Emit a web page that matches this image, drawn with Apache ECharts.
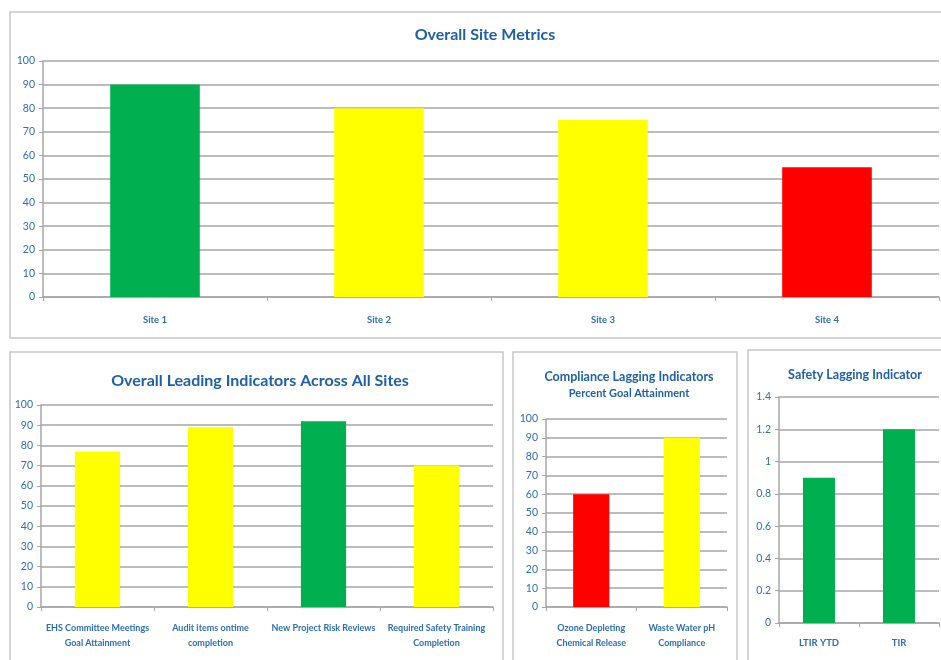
<!DOCTYPE html>
<html><head><meta charset="utf-8">
<script src="https://cdn.jsdelivr.net/npm/echarts@6/dist/echarts.min.js"></script>
<style>html,body{margin:0;padding:0;background:#fff;}#c{width:941px;height:660px;}</style>
</head><body><div id="c"></div>
<script>
// ---- data ----
var siteCats = ['Site 1', 'Site 2', 'Site 3', 'Site 4'];
var siteVals = [90, 80, 75, 55];
var siteColors = ['#00B050', '#FFFF00', '#FFFF00', '#FF0000'];

var leadCats = ['EHS Committee Meetings\nGoal Attainment', 'Audit items ontime\ncompletion', 'New Project Risk Reviews', 'Required Safety Training\nCompletion'];
var leadVals = [77, 89, 92, 70];
var leadColors = ['#FFFF00', '#FFFF00', '#00B050', '#FFFF00'];

var compCats = ['Ozone Depleting\nChemical Release', 'Waste Water pH\nCompliance'];
var compVals = [60, 90];
var compColors = ['#FF0000', '#FFFF00'];

var safeCats = ['LTIR YTD', 'TIR'];
var safeVals = [0.9, 1.2];
var safeColors = ['#00B050', '#00B050'];

var titles = ['Overall Site Metrics', 'Overall Leading Indicators Across All Sites', 'Compliance Lagging Indicators', 'Safety Lagging Indicator'];
var subTitle = 'Percent Goal Attainment';

// ---- style ----
var FONT = 'Lato, "Open Sans", sans-serif';
var TITLE_C = '#1F5FA6';
var LBL_C = '#2E6DB4';
var GRID_C = '#A6A6A6';

function mk(vals, cols) { return vals.map(function (v, i) { return { value: v, itemStyle: { color: cols[i] } }; }); }

var grids = [
  { left: 43, top: 61, width: 896, height: 236 },
  { left: 41, top: 405, width: 452, height: 202 },
  { left: 546, top: 419, width: 181, height: 188 },
  { left: 779, top: 397, width: 160, height: 226 }
];
var catsList = [siteCats, leadCats, compCats, safeCats];
var valsList = [siteVals, leadVals, compVals, safeVals];
var colsList = [siteColors, leadColors, compColors, safeColors];
var yMax = [100, 100, 100, 1.4];
var yInt = [10, 10, 10, 0.2];
var xFont = [9.5, 9, 9, 9.5];
var xMargin = [15, 14, 14, 12];

var xAxis = [], yAxis = [], series = [];
for (var i = 0; i < 4; i++) {
  xAxis.push({
    type: 'category', gridIndex: i, data: catsList[i],
    axisLine: { lineStyle: { color: GRID_C, width: 1.5 } },
    axisTick: { show: true, length: 4, lineStyle: { color: GRID_C } },
    axisLabel: { color: LBL_C, fontFamily: FONT, fontWeight: 'bold', fontSize: xFont[i], margin: xMargin[i], lineHeight: 15, interval: 0 }
  });
  yAxis.push({
    type: 'value', gridIndex: i, min: 0, max: yMax[i], interval: yInt[i],
    axisLine: { show: true, lineStyle: { color: GRID_C, width: 1.5 } },
    axisTick: { show: true, length: 4, lineStyle: { color: GRID_C } },
    splitLine: { lineStyle: { color: GRID_C, width: 1.5 } },
    axisLabel: { color: LBL_C, fontFamily: FONT, fontSize: 10.5, margin: 8, formatter: function (v) { return String(Math.round(v * 10) / 10); } }
  });
  series.push({
    type: 'bar', xAxisIndex: i, yAxisIndex: i, barWidth: '40%',
    data: mk(valsList[i], colsList[i]), silent: true
  });
}

var option = {
  animation: false,
  backgroundColor: '#fff',
  title: [
    { text: titles[0], left: 480, top: 22, textAlign: 'center', textStyle: { color: TITLE_C, fontFamily: FONT, fontWeight: 'bold', fontSize: 16 } },
    { text: titles[1], left: 255, top: 368, textAlign: 'center', textStyle: { color: TITLE_C, fontFamily: FONT, fontWeight: 'bold', fontSize: 16 } },
    { text: titles[2], left: 624, top: 365, textAlign: 'center', textStyle: { color: TITLE_C, fontFamily: FONT, fontWeight: 'bold', fontSize: 12.5 },
      subtext: subTitle, itemGap: 5, subtextStyle: { color: TITLE_C, fontFamily: FONT, fontWeight: 'bold', fontSize: 11 } },
    { text: titles[3], left: 850, top: 363, textAlign: 'center', textStyle: { color: TITLE_C, fontFamily: FONT, fontWeight: 'bold', fontSize: 12.5 } }
  ],
  graphic: [
    { type: 'rect', shape: { x: 10, y: 12, width: 940, height: 326 }, style: { fill: 'none', stroke: '#C8C8C8', lineWidth: 1.5 }, silent: true },
    { type: 'rect', shape: { x: 10, y: 352, width: 493, height: 320 }, style: { fill: 'none', stroke: '#C8C8C8', lineWidth: 1.5 }, silent: true },
    { type: 'rect', shape: { x: 513, y: 352, width: 224, height: 320 }, style: { fill: 'none', stroke: '#C8C8C8', lineWidth: 1.5 }, silent: true },
    { type: 'rect', shape: { x: 748, y: 350, width: 200, height: 320 }, style: { fill: 'none', stroke: '#C8C8C8', lineWidth: 1.5 }, silent: true }
  ],
  grid: grids,
  xAxis: xAxis,
  yAxis: yAxis,
  series: series
};
var chart = echarts.init(document.getElementById('c'), null, { renderer: 'canvas' });
chart.setOption(option);
</script></body></html>
